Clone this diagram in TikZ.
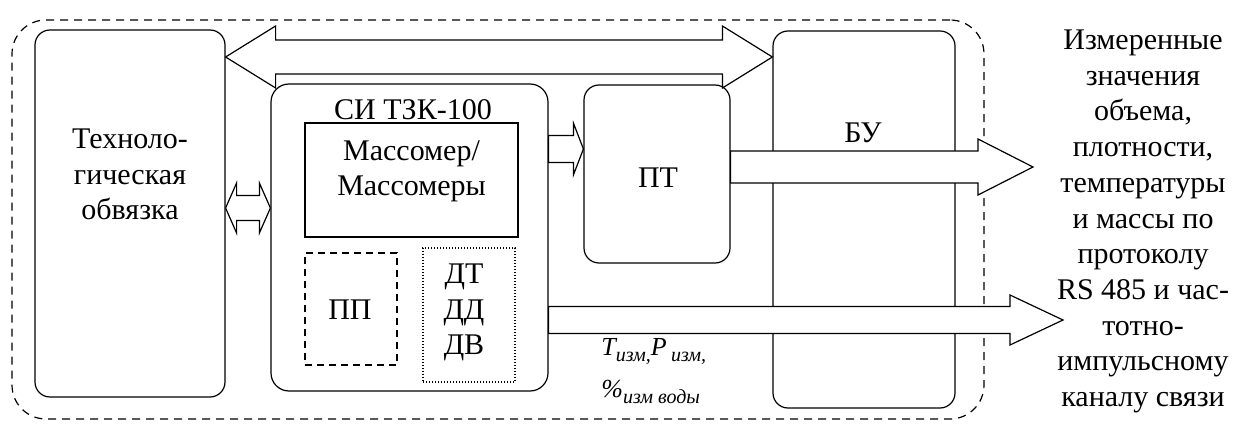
\documentclass[tikz,border=0pt]{standalone}
\usepackage{fontspec}
\setmainfont{Liberation Serif}
\usetikzlibrary{calc}
\tikzset{
  box/.style={draw, line width=0.6pt, rounded corners=7.5pt, inner sep=0pt},
  sqbox/.style={draw, line width=0.6pt, inner sep=0pt},
  dashbox/.style={draw, line width=0.6pt, dash pattern=on 3.5pt off 2.5pt, inner sep=0pt},
  dotbox/.style={draw, line width=0.6pt, dash pattern=on 0.6pt off 0.9pt, inner sep=0pt},
  outerbox/.style={draw, line width=0.6pt, dash pattern=on 4pt off 3pt, rounded corners=17pt, inner sep=0pt},
  txt/.style={font=\fontsize{15}{18}\selectfont, align=center, inner sep=0pt},
  arr/.style={draw, line width=0.6pt, fill=white, line join=miter},
  lbl/.style={font=\fontsize{13}{15}\selectfont\itshape, inner sep=0pt, anchor=west}
}
\newcommand\subf{\fontsize{10}{11}\selectfont}
% double block arrow: #1 left point, #2 right point, #3 shaft half, #4 head half, #5 head length
\newcommand\dblarrow[5]{%
  \draw[arr] let \p1=(#1), \p2=(#2) in
    (\x1,\y1) -- ({\x1+#5},{\y1+#4}) -- ({\x1+#5},{\y1+#3}) -- ({\x2-#5},{\y1+#3})
    -- ({\x2-#5},{\y1+#4}) -- (\x2,\y1) -- ({\x2-#5},{\y1-#4}) -- ({\x2-#5},{\y1-#3})
    -- ({\x1+#5},{\y1-#3}) -- ({\x1+#5},{\y1-#4}) -- cycle;}
% single block arrow
\newcommand\sglarrow[5]{%
  \draw[arr] let \p1=(#1), \p2=(#2) in
    (\x1,{\y1+#3}) -- ({\x2-#5},{\y1+#3}) -- ({\x2-#5},{\y1+#4}) -- (\x2,\y1)
    -- ({\x2-#5},{\y1-#4}) -- ({\x2-#5},{\y1-#3}) -- (\x1,{\y1-#3}) -- cycle;}
\begin{document}
\begin{tikzpicture}[x=0.5pt, y=-0.5pt]
\useasboundingbox (0,0) rectangle (1243,427);

% outer dashed frame
\node[outerbox, minimum width=486pt, minimum height=199.5pt] (outer) at (498,219.5) {};

% boxes
\node[box, minimum width=95pt, minimum height=183.5pt] (tech) at (130,213.5) {};
\node[txt, font=\fontsize{15}{17.75}\selectfont] (techT) at (130,174.5) {Техноло-\\гическая\\обвязка};

\node[box, rounded corners=9pt, minimum width=138.5pt, minimum height=153.5pt] (si) at (409.5,237.5) {};
\node[txt] (siT) at (413,110) {СИ ТЗК-100};

\node[sqbox, minimum width=106.5pt, minimum height=57pt] (mass) at (411.5,180) {};
\node[txt, font=\fontsize{15}{17.5}\selectfont] (massT) at (411.5,171) {Массомер/\\Массомеры};

\node[dashbox, minimum width=46pt, minimum height=56pt] (pp) at (351,309) {};
\node[txt] (ppT) at (350,310) {ПП};

\node[dotbox, minimum width=46pt, minimum height=67pt] (dt) at (469,315) {};
\node[txt, font=\fontsize{15}{17.75}\selectfont] (dtT) at (464,312.5) {ДТ\\ДД\\ДВ};

\node[box, minimum width=73pt, minimum height=89pt] (pt) at (657,174) {};
\node[txt] (ptT) at (658,178) {ПТ};

\node[box, minimum width=91pt, minimum height=188.5pt] (bu) at (864,219.5) {};
\node[txt] (buT) at (863,133) {БУ};

% helper levels and free ends
\coordinate (hA) at (0,57);
\coordinate (hB) at (0,208);
\coordinate (hC) at (0,149);
\coordinate (hD) at (0,167);
\coordinate (hE) at (0,320);
\coordinate (endD) at (1033,168);
\coordinate (endE) at (1063,320);

% connectors
\dblarrow{tech.east |- hA}{bu.west |- hA}{8.5pt}{15.5pt}{25pt}
\dblarrow{tech.east |- hB}{si.west |- hB}{6.25pt}{12.5pt}{5.5pt}
\sglarrow{si.east |- hC}{pt.west |- hC}{6.75pt}{13pt}{5pt}
\sglarrow{pt.east |- hD}{endD}{8pt}{14pt}{27.5pt}
\sglarrow{si.east |- hE}{endE}{6.75pt}{12.5pt}{26.5pt}

% bottom label
\node[lbl] (lab1) at (601,352) {T\raisebox{-0.5ex}{\subf изм,}P\,\raisebox{-0.5ex}{\subf изм,}};
\node[lbl] (lab2) at (601,392) {\%\raisebox{-0.5ex}{\subf изм воды}};

% right text
\node[txt, font=\fontsize{15}{17.85}\selectfont] (outT) at (1143,221.5)
  {Измеренные\\значения\\объема,\\плотности,\\температуры\\и массы по\\протоколу\\RS 485 и час-\\тотно-\\импульсному\\каналу связи};
\end{tikzpicture}
\end{document}
